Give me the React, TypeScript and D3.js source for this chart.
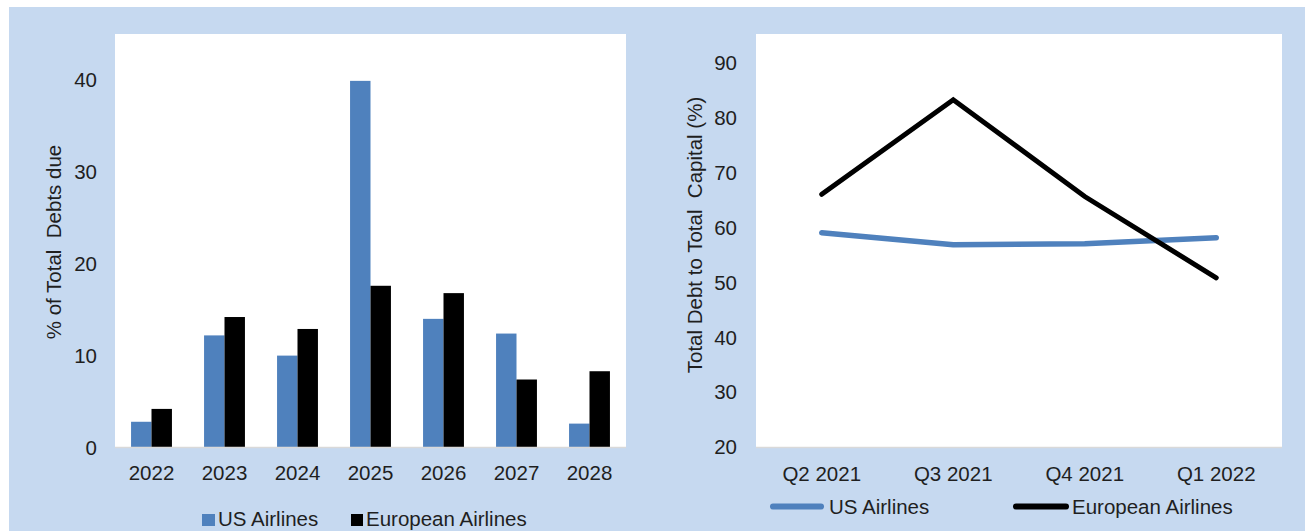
import React from "react";
import * as d3 from "d3";

const years = ["2022", "2023", "2024", "2025", "2026", "2027", "2028"];
const usDebtDue = [2.8, 12.2, 10.0, 39.9, 14.0, 12.4, 2.6];
const euDebtDue = [4.2, 14.2, 12.9, 17.6, 16.8, 7.4, 8.3];
const barTicks = [0, 10, 20, 30, 40];

const quarters = ["Q2 2021", "Q3 2021", "Q4 2021", "Q1 2022"];
const usDebtCap = [59.0, 56.8, 57.0, 58.1];
const euDebtCap = [66.0, 83.2, 65.6, 50.8];
const lineTicks = [20, 30, 40, 50, 60, 70, 80, 90];

const seriesNames = ["US Airlines", "European Airlines"];

const BLUE = "#4f81bd";
const BLACK = "#000000";
const BG = "#c6d9f0";
const TEXT = "#1f1f1f";
const FONT = "'Liberation Sans', Arial, sans-serif";
const FS = 20.5;

export default function App() {
  // Left: bar chart
  const x0 = d3.scaleBand<string>().domain(years).range([115, 626]).paddingInner(0.44).paddingOuter(0.22);
  const x1 = d3.scaleBand<string>().domain(seriesNames).range([0, x0.bandwidth()]).padding(0);
  const yL = d3.scaleLinear().domain([0, 45]).range([447.5, 34]);

  // Right: line chart
  const xP = d3.scalePoint<string>().domain(quarters).range([756, 1282]).padding(0.5);
  const yR = d3.scaleLinear().domain([20, 95]).range([447, 35]);
  const line = d3
    .line<number>()
    .x((_, i) => xP(quarters[i]) as number)
    .y((d) => yR(d));

  return (
    <svg
      width={1305}
      height={531}
      style={{ position: "absolute", left: 0, top: 0, fontFamily: FONT }}
    >
      <rect x={0} y={0} width={1305} height={531} fill="#ffffff" />
      <rect x={9} y={7} width={1296} height={524} fill={BG} />

      {/* Left panel */}
      <rect x={115} y={34} width={511} height={413.5} fill="#ffffff" />
      {years.map((yr, i) => (
        <g key={yr} transform={`translate(${x0(yr)},0)`}>
          <rect
            x={x1("US Airlines")}
            y={yL(usDebtDue[i])}
            width={x1.bandwidth()}
            height={yL(0) - yL(usDebtDue[i])}
            fill={BLUE}
          />
          <rect
            x={x1("European Airlines")}
            y={yL(euDebtDue[i])}
            width={x1.bandwidth()}
            height={yL(0) - yL(euDebtDue[i])}
            fill={BLACK}
          />
        </g>
      ))}
      <line x1={115} x2={626} y1={447.5} y2={447.5} stroke="#d9d9d9" strokeWidth={1.5} />
      {barTicks.map((t) => (
        <text key={t} x={97} y={yL(t)} dy="0.36em" textAnchor="end" fontSize={FS} fill={TEXT}>
          {t}
        </text>
      ))}
      {years.map((yr) => (
        <text
          key={yr}
          x={(x0(yr) as number) + x0.bandwidth() / 2}
          y={480}
          textAnchor="middle"
          fontSize={FS}
          fill={TEXT}
        >
          {yr}
        </text>
      ))}
      <text
        transform="translate(61,242) rotate(-90)"
        textAnchor="middle"
        fontSize={FS}
        fill={TEXT}
        style={{ whiteSpace: "pre" }}
      >
        {"% of Total  Debts due"}
      </text>
      {/* Left legend */}
      <rect x={202} y={514} width={13} height={12} fill={BLUE} />
      <text x={218} y={526} fontSize={FS} fill={TEXT}>
        US Airlines
      </text>
      <rect x={351} y={514} width={12} height={12} fill={BLACK} />
      <text x={366} y={526} fontSize={FS} fill={TEXT}>
        European Airlines
      </text>

      {/* Right panel */}
      <rect x={756} y={34} width={526} height={413} fill="#ffffff" />
      <line x1={756} x2={1282} y1={447.5} y2={447.5} stroke="#d9d9d9" strokeWidth={1.5} />
      <path
        d={line(usDebtCap) || ""}
        fill="none"
        stroke={BLUE}
        strokeWidth={5.5}
        strokeLinecap="round"
        strokeLinejoin="round"
      />
      <path
        d={line(euDebtCap) || ""}
        fill="none"
        stroke={BLACK}
        strokeWidth={5}
        strokeLinecap="round"
        strokeLinejoin="miter"
      />
      {lineTicks.map((t) => (
        <text key={t} x={737} y={yR(t)} dy="0.36em" textAnchor="end" fontSize={FS} fill={TEXT}>
          {t}
        </text>
      ))}
      {quarters.map((q) => (
        <text key={q} x={xP(q)} y={481} textAnchor="middle" fontSize={FS} fill={TEXT}>
          {q}
        </text>
      ))}
      <text
        transform="translate(702,235) rotate(-90)"
        textAnchor="middle"
        fontSize={FS}
        fill={TEXT}
        style={{ whiteSpace: "pre" }}
      >
        {"Total Debt to Total  Capital (%)"}
      </text>
      {/* Right legend */}
      <line x1={773} x2={821} y1={506.5} y2={506.5} stroke={BLUE} strokeWidth={6} strokeLinecap="round" />
      <text x={829} y={514} fontSize={FS} fill={TEXT}>
        US Airlines
      </text>
      <line x1={1016} x2={1066} y1={506.5} y2={506.5} stroke={BLACK} strokeWidth={6} strokeLinecap="round" />
      <text x={1072} y={514} fontSize={FS} fill={TEXT}>
        European Airlines
      </text>
    </svg>
  );
}
